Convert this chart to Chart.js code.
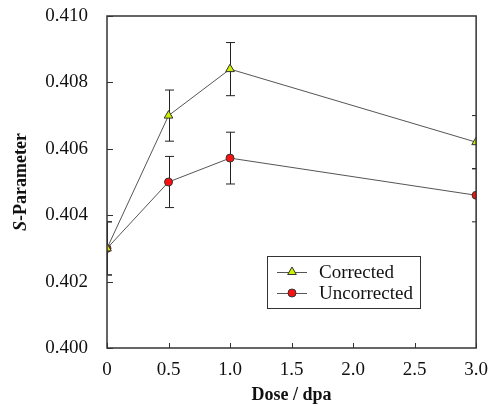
<!DOCTYPE html>
<html>
<head>
<meta charset="utf-8">
<script src="https://cdn.jsdelivr.net/npm/chart.js@4.4.1/dist/chart.umd.min.js"></script>
<style>
  html, body { margin: 0; padding: 0; background: #fff; }
  #wrap { width: 499px; height: 406px; }
</style>
</head>
<body>
<div id="wrap"><canvas id="sChart" width="499" height="406"></canvas></div>
<script>
// values
const doses = [0, 0.5, 1.0, 3.0];
const corrected = [0.4030, 0.4070, 0.4084, 0.4062];
const correctedErr = [0.0008, 0.00077, 0.0008, 0.0008];
const uncorrected = [0.4030, 0.4050, 0.40572, 0.4046];
const uncorrectedErr = [0.0008, 0.00077, 0.00078, 0.0008];

const serif = '"Liberation Serif", "Times New Roman", serif';
const lineColor = '#555';

function toPoints(ys) {
    return doses.map((d, i) => ({ x: d, y: ys[i] }));
}

// error bars, frame, inward ticks, legend box and y title
const decor = {
    id: 'decor',
    beforeDatasetsDraw(chart) {
        const ctx = chart.ctx;
        const xs = chart.scales.x, ys = chart.scales.y;
        const a = chart.chartArea;
        ctx.save();
        ctx.beginPath();
        ctx.rect(a.left, a.top - 1, a.right - a.left, a.bottom - a.top + 2);
        ctx.clip();
        ctx.strokeStyle = '#222';
        ctx.lineWidth = 1;
        [[corrected, correctedErr], [uncorrected, uncorrectedErr]].forEach(([vals, errs]) => {
            vals.forEach((v, i) => {
                const px = Math.round(xs.getPixelForValue(doses[i])) + 0.5;
                const top = ys.getPixelForValue(v + errs[i]);
                const bot = ys.getPixelForValue(v - errs[i]);
                ctx.beginPath();
                ctx.moveTo(px, top); ctx.lineTo(px, bot);
                ctx.moveTo(px - 4.5, top); ctx.lineTo(px + 4.5, top);
                ctx.moveTo(px - 4.5, bot); ctx.lineTo(px + 4.5, bot);
                ctx.stroke();
            });
        });
        ctx.restore();
    },
    afterDraw(chart) {
        const ctx = chart.ctx;
        const xs = chart.scales.x, ys = chart.scales.y;
        const a = chart.chartArea;
        ctx.save();
        // frame
        ctx.strokeStyle = '#333';
        ctx.lineWidth = 1.5;
        ctx.strokeRect(a.left, a.top, a.right - a.left, a.bottom - a.top);
        // inward ticks
        ctx.lineWidth = 1;
        ctx.beginPath();
        ys.ticks.forEach(t => {
            const py = Math.round(ys.getPixelForValue(t.value)) + 0.5;
            ctx.moveTo(a.left, py); ctx.lineTo(a.left + 6, py);
        });
        xs.ticks.forEach(t => {
            const px = Math.round(xs.getPixelForValue(t.value)) + 0.5;
            ctx.moveTo(px, a.bottom); ctx.lineTo(px, a.bottom - 5);
        });
        ctx.stroke();

        // legend
        const lx = 267, ly = 256, lw = 153, lh = 52;
        ctx.fillStyle = '#fff';
        ctx.fillRect(lx, ly, lw, lh);
        ctx.strokeStyle = '#333';
        ctx.lineWidth = 1;
        ctx.strokeRect(lx + 0.5, ly + 0.5, lw, lh);
        const rows = [
            { label: chart.data.datasets[0].label, y: 272, style: 'triangle', fill: '#ccf000', r: 5 },
            { label: chart.data.datasets[1].label, y: 293, style: 'circle', fill: '#ff1010', r: 4 }
        ];
        rows.forEach(row => {
            ctx.strokeStyle = lineColor;
            ctx.lineWidth = 1;
            ctx.beginPath();
            ctx.moveTo(277, row.y + 0.5); ctx.lineTo(307, row.y + 0.5);
            ctx.stroke();
            ctx.fillStyle = row.fill;
            ctx.strokeStyle = '#333';
            Chart.helpers.drawPoint(ctx, { pointStyle: row.style, radius: row.r, borderWidth: 1, rotation: 0 }, 292, row.y);
            ctx.fillStyle = '#111';
            ctx.font = '19px ' + serif;
            ctx.textBaseline = 'middle';
            ctx.textAlign = 'left';
            ctx.fillText(row.label, 319, row.y + 1);
        });

        // y title: italic S + "-Parameter"
        const cy = (a.top + a.bottom) / 2;
        ctx.translate(21, cy);
        ctx.rotate(-Math.PI / 2);
        ctx.fillStyle = '#111';
        ctx.textBaseline = 'middle';
        ctx.textAlign = 'left';
        const f1 = 'italic bold 18px ' + serif, f2 = 'bold 18px ' + serif;
        ctx.font = f1; const w1 = ctx.measureText('S').width;
        ctx.font = f2; const w2 = ctx.measureText('-Parameter').width;
        const start = -(w1 + w2) / 2;
        ctx.font = f1; ctx.fillText('S', start, 0);
        ctx.font = f2; ctx.fillText('-Parameter', start + w1, 0);
        ctx.restore();
    }
};

const ctx = document.getElementById('sChart').getContext('2d');
const sChart = new Chart(ctx, {
    type: 'scatter',
    data: {
        datasets: [{
            label: 'Corrected',
            data: toPoints(corrected),
            showLine: true,
            borderColor: lineColor,
            borderWidth: 1,
            pointStyle: 'triangle',
            pointRadius: 5,
            pointBackgroundColor: '#ccf000',
            pointBorderColor: '#333',
            pointBorderWidth: 1
        }, {
            label: 'Uncorrected',
            data: toPoints(uncorrected),
            showLine: true,
            borderColor: lineColor,
            borderWidth: 1,
            pointStyle: 'circle',
            pointRadius: 4,
            pointBackgroundColor: '#ff1010',
            pointBorderColor: '#333',
            pointBorderWidth: 1
        }]
    },
    options: {
        responsive: false,
        animation: false,
        layout: { padding: { top: 16, right: 21, left: 0, bottom: 0 } },
        plugins: {
            legend: { display: false },
            tooltip: { enabled: false }
        },
        scales: {
            x: {
                type: 'linear',
                min: 0,
                max: 3,
                grid: { display: false, drawTicks: false },
                border: { display: false },
                ticks: {
                    stepSize: 0.5,
                    padding: 11,
                    color: '#111',
                    font: { family: serif, size: 19 },
                    callback: v => v === 0 ? '0' : v.toFixed(1)
                },
                title: {
                    display: true,
                    text: 'Dose / dpa',
                    color: '#111',
                    font: { family: serif, size: 18, weight: 'bold' },
                    padding: { top: 6, bottom: 0 }
                },
                afterFit: s => { s.height = 58; }
            },
            y: {
                min: 0.400,
                max: 0.410,
                grid: { display: false, drawTicks: false },
                border: { display: false },
                ticks: {
                    stepSize: 0.002,
                    padding: 19,
                    color: '#111',
                    font: { family: serif, size: 19 },
                    callback: v => v.toFixed(3)
                },
                afterFit: s => { s.width = 107; s.paddingTop = 0; s.paddingBottom = 0; }
            }
        }
    },
    plugins: [decor]
});
</script>
</body>
</html>
